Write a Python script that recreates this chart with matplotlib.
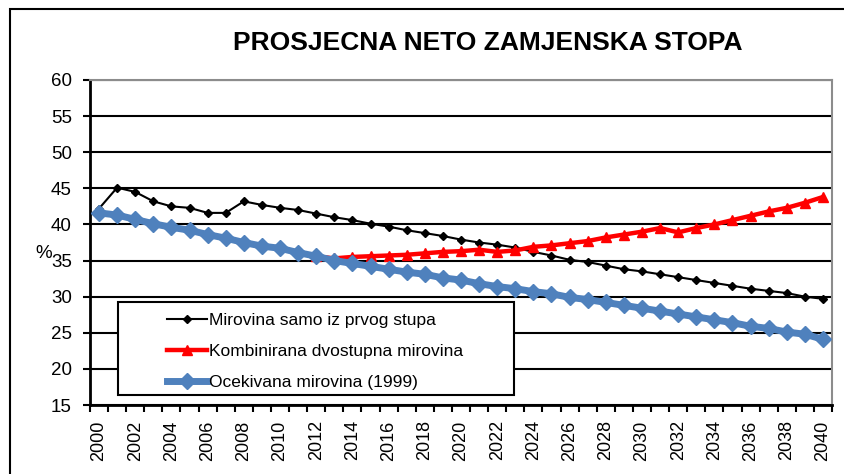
import matplotlib
matplotlib.use("Agg")
import matplotlib.pyplot as plt
from matplotlib.patches import Rectangle
from matplotlib.lines import Line2D

plt.rcParams['font.family'] = ['Liberation Sans', 'DejaVu Sans']

# data
years = list(range(2000, 2041))
prvi_stup = [42.2, 45.1, 44.5, 43.2, 42.5, 42.3, 41.6, 41.6, 43.2, 42.7,
             42.3, 42.0, 41.5, 41.0, 40.6, 40.1, 39.7, 39.2, 38.8, 38.4,
             37.9, 37.5, 37.2, 36.8, 36.2, 35.7, 35.1, 34.8, 34.3, 33.8,
             33.5, 33.1, 32.7, 32.3, 31.9, 31.5, 31.1, 30.8, 30.5, 30.0, 29.7]
# red series is hidden under the blue one until 2012
dvostupna = [None] * 12 + [
             35.6, 35.3, 35.5, 35.6, 35.7, 35.8, 36.0, 36.2,
             36.3, 36.5, 36.2, 36.4, 36.9, 37.1, 37.4, 37.7, 38.2, 38.6,
             39.0, 39.5, 38.9, 39.5, 40.0, 40.6, 41.2, 41.8, 42.3, 43.0, 43.8]
ocekivana = [41.6, 41.3, 40.7, 40.1, 39.6, 39.2, 38.6, 38.1, 37.5, 37.0,
             36.7, 36.1, 35.6, 35.0, 34.6, 34.2, 33.8, 33.4, 33.1, 32.6,
             32.3, 31.8, 31.4, 31.1, 30.7, 30.4, 29.9, 29.6, 29.2, 28.8,
             28.4, 28.0, 27.6, 27.2, 26.8, 26.4, 25.9, 25.6, 25.1, 24.8, 24.1]
y_ticks = [15, 20, 25, 30, 35, 40, 45, 50, 55, 60]
labels = ["Mirovina samo iz prvog stupa",
          "Kombinirana dvostupna mirovina",
          "Ocekivana mirovina (1999)"]
title = "PROSJECNA NETO ZAMJENSKA STOPA"

W, H = 845, 474


def fx(x):
    return x / W


def fy(y):
    return 1 - y / H


fig = plt.figure(figsize=(W / 100, H / 100), dpi=100)
ax = fig.add_axes([fx(90), fy(405), (832 - 90) / W, (405 - 80) / H])

x = list(range(len(years)))
red_y = [float("nan") if v is None else v for v in dvostupna]
ax.plot(x, prvi_stup, color="black", lw=1.5, marker="D", ms=3.8, zorder=3)
ax.plot(x, red_y, color="#FF0000", lw=3.2, marker="^", ms=7, zorder=4)
ax.plot(x, ocekivana, color="#4F81BD", lw=5, marker="D", ms=8.5, zorder=5)

ax.set_xlim(-0.5, len(years) - 0.5)
ax.set_ylim(15, 60)
ax.set_yticks(y_ticks)
ax.set_yticklabels([str(v) for v in y_ticks])
ax.tick_params(axis="y", direction="out", length=5, width=1.5, pad=8,
               labelsize=13.5)

ax.set_xticks(x[::2])
ax.set_xticklabels([str(v) for v in years[::2]], rotation=90)
ax.set_xticks([i - 0.5 for i in range(len(years) + 1)], minor=True)
ax.tick_params(axis="x", which="major", length=0, pad=11, labelsize=13)
ax.tick_params(axis="x", which="minor", direction="out", length=5, width=1.5)

ax.yaxis.grid(True, color="black", lw=1.5)
ax.set_axisbelow(True)
for side in ["top", "right"]:
    ax.spines[side].set_color("#8C8C8C")
    ax.spines[side].set_linewidth(1.5)
for side in ["left", "bottom"]:
    ax.spines[side].set_color("black")
    ax.spines[side].set_linewidth(2)

fig.text(fx(488), fy(43), title, ha="center", va="center",
         fontsize=19, fontweight="bold")
fig.text(fx(44), fy(253), "%", ha="center", va="center", fontsize=13.5)

# outer chart frame
fig.add_artist(Rectangle((fx(10), -0.2), 1.2, fy(9) + 0.2,
                         transform=fig.transFigure, fill=False,
                         edgecolor="black", lw=1.5, zorder=0.5))

# legend box
fig.add_artist(Rectangle((fx(118), fy(395)), (514 - 118) / W,
                         (395 - 302) / H, transform=fig.transFigure,
                         facecolor="white", edgecolor="black", lw=1.5,
                         zorder=2))
handles = [
    Line2D([], [], color="black", lw=1.5, marker="D", ms=3.8),
    Line2D([], [], color="#FF0000", lw=3.2, marker="^", ms=7),
    Line2D([], [], color="#4F81BD", lw=5, marker="D", ms=8),
]
leg = fig.legend(handles, labels, loc="upper left",
                 bbox_to_anchor=(fx(167), fy(313)), frameon=False,
                 borderpad=0, borderaxespad=0, fontsize=12.5,
                 handlelength=2.3, handletextpad=0.1, labelspacing=0.9)
leg.set_zorder(3)

fig.savefig("out.png", dpi=100)
